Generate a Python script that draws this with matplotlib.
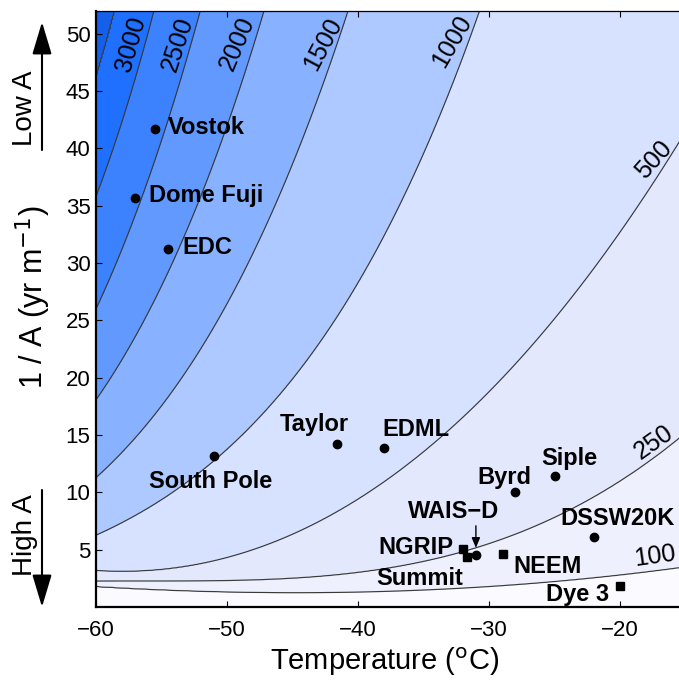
import numpy as np
import matplotlib.pyplot as plt

plt.rcParams['font.family'] = ['Liberation Sans', 'DejaVu Sans']

# contour levels (years)
levels = [100, 250, 500, 1000, 1500, 2000, 2500, 3000, 3500]

# where each contour runs: temperature (C) -> 1/A (yr/m)
c100_T = [-60, -55.4, -50.3, -45.2, -38.4, -32.0, -25.3, -20.0, -15.5]
c100_u = [1.80, 1.50, 1.35, 1.27, 1.31, 1.65, 2.18, 2.81, 3.40]
c250_T = [-60, -50.3, -45.2, -38.4, -31.5, -24.8, -19.75, -15.5]
c250_u = [2.29, 2.18, 2.52, 3.45, 4.84, 7.9, 11.2, 14.7]
c500_T = [-60, -47.2, -38.4, -32.2, -23.8, -19.8, -15.5]
c500_u = [3.16, 5.43, 10.5, 16.3, 26.8, 33.2, 40.4]
c1000_T = [-60, -49.8, -38.1, -30.55]
c1000_u = [6.3, 13.7, 32.9, 52.0]
c1500_T = [-60, -57.7, -47.2, -46.2, -40.74]
c1500_u = [11.38, 13.7, 32.9, 35.5, 51.9]
c2000_T = [-60, -53.1, -52.06, -47.2]
c2000_u = [18.06, 32.9, 35.5, 51.9]
c2500_T = [-60, -57.4, -56.6, -52.06]
c2500_u = [26.0, 32.9, 35.5, 51.9]
c3000_T = [-60, -55.6]
c3000_u = [35.8, 51.9]
c3500_T = [-60, -58.55]
c3500_u = [46.1, 52.0]

contour_T = [c100_T, c250_T, c500_T, c1000_T, c1500_T, c2000_T, c2500_T, c3000_T, c3500_T]
contour_u = [c100_u, c250_u, c500_u, c1000_u, c1500_u, c2000_u, c2500_u, c3000_u, c3500_u]

# ice core sites
ant_names = ['Vostok', 'Dome Fuji', 'EDC', 'South Pole', 'Taylor', 'EDML',
             'Byrd', 'Siple', 'DSSW20K']
ant_T = [-55.5, -57.0, -54.5, -51.0, -41.6, -38.0, -28.0, -25.0, -22.0]
ant_u = [41.7, 35.7, 31.2, 13.2, 14.2, 13.85, 10.0, 11.4, 6.1]
wais_T, wais_u = -31.0, 4.55
grl_names = ['NGRIP', 'Summit', 'NEEM', 'Dye 3']
grl_T = [-32.0, -31.7, -28.9, -20.0]
grl_u = [5.05, 4.32, 4.62, 1.85]

band_colors = ['#fbfbff', '#eff0fe', '#e3e8fd', '#d6e2ff', '#aec9ff', '#88b1ff',
               '#6199ff', '#3c82ff', '#1f70ff', '#1560ea']


def curve(T_pts, u_pts, T):
    T_pts = np.asarray(T_pts, float)
    u_pts = np.asarray(u_pts, float)
    hi = T_pts.max()
    if len(T_pts) >= 6:
        # long, low contours: smooth cubic in 1/A
        p = np.polyfit(T_pts, u_pts, 3)
        dp = np.polyder(p)
        out = np.polyval(p, T)
        out = np.where(T > hi, np.polyval(p, hi) + np.polyval(dp, hi) * (T - hi), out)
        return np.maximum(out, 0.05)
    lu = np.log(u_pts)
    p = np.polyfit(T_pts, lu, min(2, len(T_pts) - 1))
    dp = np.polyder(p)
    out = np.polyval(p, T)
    out = np.where(T > hi, np.polyval(p, hi) + np.polyval(dp, hi) * (T - hi), out)
    return np.exp(out)


Tg = np.linspace(-60, -15, 500)
ug = np.linspace(0, 52, 700)
U = np.array([curve(a, b, Tg) for a, b in zip(contour_T, contour_u)])
U = np.maximum.accumulate(U, axis=0)
Z = np.empty((len(ug), len(Tg)))
for j in range(len(Tg)):
    Z[:, j] = np.interp(ug, np.r_[0, U[:, j], 1e4], np.r_[0, levels, 5000])

fig = plt.figure(figsize=(6.79, 6.81), dpi=100)
ax = fig.add_axes([96 / 679, 74 / 681, 589.5 / 679, 596.3 / 681])

ax.contourf(Tg, ug, Z, levels=[0] + levels + [5000], colors=band_colors)
ax.contour(Tg, ug, Z, levels=levels, colors='#3a3a3a', linewidths=0.85)

# contour labels
lab = [('3000', -57.3, 49.1, 74), ('2500', -53.8, 49.1, 72), ('2000', -49.2, 49.1, 67),
       ('1500', -42.65, 49.1, 62), ('1000', -32.8, 49.3, 60), ('500', -17.45, 39.0, 48),
       ('250', -17.4, 14.4, 35), ('100', -17.3, 4.4, 8)]
for s, x, y, r in lab:
    ax.text(x, y, s, fontsize=18, rotation=r, ha='center', va='center',
            rotation_mode='anchor')

# sites
ax.plot(ant_T, ant_u, 'o', color='k', ms=6)
ax.plot([wais_T], [wais_u], 'o', color='k', ms=6)
ax.plot(grl_T, grl_u, 's', color='k', ms=5.5)

offs = {'Vostok': (13, 1, 'left'), 'Dome Fuji': (14, 2, 'left'), 'EDC': (14, 2, 'left'),
        'South Pole': (-3, -26, 'center'), 'Taylor': (-23, 20, 'center'),
        'EDML': (32, 19, 'center'), 'Byrd': (-11, 15, 'center'), 'Siple': (15, 18, 'center'),
        'DSSW20K': (24, 19, 'center'), 'NGRIP': (-9, 2, 'right'),
        'Summit': (-47, -21, 'center'), 'NEEM': (10, -12, 'left'), 'Dye 3': (-11, -9, 'right')}
for n, x, y in zip(ant_names + grl_names, ant_T + grl_T, ant_u + grl_u):
    dx, dy, ha = offs[n]
    ax.annotate(n, (x, y), xytext=(dx, dy), textcoords='offset pixels', ha=ha,
                va='center', fontsize=17, fontweight='bold')
ax.annotate('WAIS\u2212D', (wais_T, wais_u), xytext=(-22, 43), textcoords='offset pixels',
            ha='center', va='center', fontsize=17, fontweight='bold')
ax.annotate('', (wais_T, wais_u), xytext=(0, 29), textcoords='offset pixels',
            arrowprops=dict(arrowstyle='-|>,head_width=0.25,head_length=0.6', color='k',
                            lw=1.0, shrinkA=0, shrinkB=5))

ax.set_xlim(-60, -15)
ax.set_ylim(0, 52)
ax.set_xticks([-60, -50, -40, -30, -20])
ax.set_yticks(np.arange(5, 51, 5))
ax.tick_params(direction='in', length=4, width=0.8, labelsize=16, top=True, right=True)
ax.tick_params(axis='x', pad=9)
ax.tick_params(axis='y', pad=4)
for side in ['left', 'bottom']:
    ax.spines[side].set_linewidth(1.6)
ax.spines['top'].set_linewidth(0.9)

fig.text(385 / 679, 1 - 662 / 681, 'Temperature ($^{\\mathrm{o}}$C)', fontsize=21,
         ha='center', va='center')
fig.text(33 / 679, 1 - 297 / 681, '1 / A (yr m$^{\\mathrm{-1}}$)', fontsize=22,
         ha='center', va='center', rotation=90)

# accumulation arrows
fig.text(25 / 679, 1 - 108 / 681, 'Low A', fontsize=20, ha='center', va='center', rotation=90)
fig.text(25 / 679, 1 - 535 / 681, 'High A', fontsize=20, ha='center', va='center', rotation=90)
for y0, y1 in [(150, 22), (490, 607)]:
    ax.annotate('', xy=(42 / 679, 1 - y1 / 681), xytext=(42 / 679, 1 - y0 / 681),
                xycoords='figure fraction', textcoords='figure fraction',
                arrowprops=dict(arrowstyle='-|>,head_width=0.6,head_length=2.0', color='k',
                                lw=1.5, shrinkA=0, shrinkB=0))

fig.savefig('out.png', dpi=100)
